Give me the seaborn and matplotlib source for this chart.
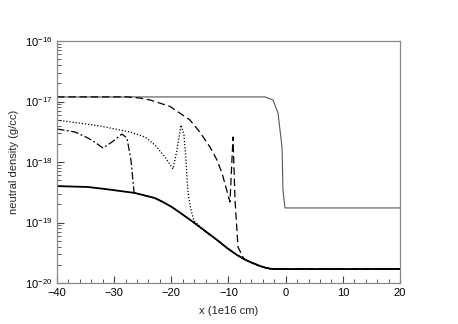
import numpy as np
import pandas as pd
import matplotlib
matplotlib.use("Agg")
import matplotlib.pyplot as plt
import seaborn as sns
from matplotlib.ticker import MultipleLocator, FixedLocator, NullFormatter, LogFormatterSciNotation

# ---- data (x in 1e16 cm, density in g/cc) ----
lower_x = [-40, -34.6, -31.6, -28.98, -26.4, -24.61, -22.9, -21.46, -19.9, -18.14,
           -16.2, -14.11, -12.0, -10.26, -8.5, -7.29, -6.2, -4.5, -3.62, -2.7, -1.87, 0, 20]
lower_y = [4.0e-19, 3.86e-19, 3.58e-19, 3.32e-19, 3.08e-19, 2.79e-19, 2.54e-19, 2.18e-19,
           1.80e-19, 1.38e-19, 1.02e-19, 7.24e-20, 5.14e-20, 3.79e-20, 2.90e-20, 2.49e-20,
           2.22e-20, 1.91e-20, 1.80e-20, 1.72e-20, 1.70e-20, 1.70e-20, 1.70e-20]

thin_x = [-40, -3.62, -2.22, -1.34, -0.64, -0.47, -0.12, 20]
thin_y = [1.19e-17, 1.19e-17, 1.06e-17, 6.45e-18, 1.77e-18, 3.44e-19, 1.74e-19, 1.74e-19]

dash_x = [-40, -27.76, -25.5, -23.73, -20.24, -16.74, -14.99, -13.24, -12.02, -11.14, -9.74,
          -9.21, -8.86, -8.34, -7.47]
dash_y = [1.19e-17, 1.19e-17, 1.14e-17, 1.06e-17, 8.3e-18, 4.94e-18, 3.1e-18, 1.77e-18,
          1.08e-18, 6.58e-19, 2.18e-19, 2.59e-18, 2.36e-19, 3.94e-20, 2.69e-20]

dot_x = [-40, -32.48, -27.23, -24.61, -22.86, -21.11, -19.71, -19.01, -18.31,
         -17.79, -17.44, -17.09, -16.56, -16.04]
dot_y = [4.94e-18, 3.94e-18, 3.13e-18, 2.59e-18, 1.91e-18, 1.21e-18, 7.66e-19,
         1.58e-18, 4.09e-18, 2.79e-18, 1.08e-18, 3.08e-19, 1.61e-19, 1.06e-19]

dashdot_x = [-40, -36.85, -34.58, -33.18, -31.95, -30.38, -28.63, -27.76, -27.06, -26.53]
dashdot_y = [3.51e-18, 3.13e-18, 2.49e-18, 2.06e-18, 1.70e-18, 2.14e-18, 2.90e-18,
             2.49e-18, 1.08e-18, 3.19e-19]

y_major_ticks = [1e-20, 1e-19, 1e-18, 1e-17, 1e-16]
x_major_ticks = [-40, -30, -20, -10, 0, 10, 20]


def with_tail(xs, ys):
    """Append the shared lower curve beyond the last point of a series."""
    last = xs[-1]
    tx = [x for x in lower_x if x > last]
    ty = [y for x, y in zip(lower_x, lower_y) if x > last]
    return list(xs) + tx, list(ys) + ty


sns.set_style("ticks")
plt.rcParams["font.family"] = ["Liberation Sans", "DejaVu Sans"]

fig = plt.figure(figsize=(4.58, 3.24), dpi=100)
ax = fig.add_axes([57 / 458, 1 - 283 / 324, 343 / 458, 242 / 324])

series = [
    (lower_x, lower_y, dict(color="black", lw=1.3, linestyle="-")),
    (thin_x, thin_y, dict(color="#555555", lw=0.8, linestyle="-")),
    (*with_tail(dash_x, dash_y), dict(color="black", lw=0.9, linestyle=(0, (6, 3)))),
    (*with_tail(dot_x, dot_y), dict(color="black", lw=0.9, linestyle=(0, (1, 1.5)))),
    (*with_tail(dashdot_x, dashdot_y), dict(color="black", lw=0.9, linestyle=(0, (6, 2, 1.5, 2)))),
]

for xs, ys, kw in series:
    df = pd.DataFrame({"x": xs, "y": ys})
    sns.lineplot(data=df, x="x", y="y", ax=ax, sort=False, estimator=None, **kw)

ax.set_yscale("log")
ax.set_xlim(-40, 20)
ax.set_ylim(1e-20, 1e-16)
ax.xaxis.set_major_locator(FixedLocator(x_major_ticks))
ax.xaxis.set_minor_locator(MultipleLocator(2))
ax.yaxis.set_major_locator(FixedLocator(y_major_ticks))
ax.yaxis.set_major_formatter(LogFormatterSciNotation())
minor = [m * 10.0 ** e for e in range(-20, -16) for m in range(2, 10)]
ax.yaxis.set_minor_locator(FixedLocator(minor))
ax.yaxis.set_minor_formatter(NullFormatter())

ax.tick_params(which="both", direction="in", colors="#444444", labelcolor="black",
               labelsize=8, top=False, right=False)
ax.tick_params(which="major", length=5, width=0.8)
ax.tick_params(which="minor", length=3, width=0.6)

for s in ax.spines.values():
    s.set_visible(True)
    s.set_color("#888888")
    s.set_linewidth(0.9)

ax.set_xlabel("x (1e16 cm)", fontsize=8, labelpad=6)
ax.set_ylabel("neutral density (g/cc)", fontsize=8, labelpad=4)

fig.savefig("out.png", dpi=100)
